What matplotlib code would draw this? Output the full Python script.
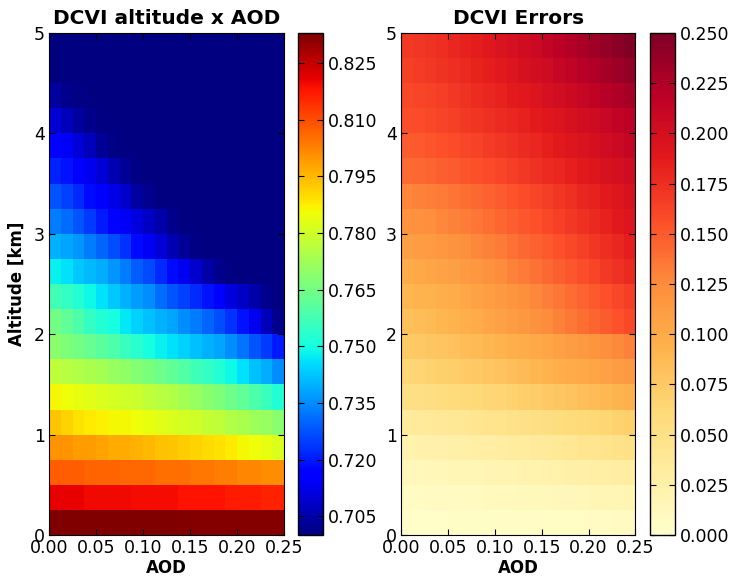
import numpy as np
import matplotlib
matplotlib.use("Agg")
from matplotlib import pyplot as plt

# bin edges (AOD and altitude in km)
aod_edges = np.linspace(0.0, 0.25, 21)
alt_edges = np.linspace(0.0, 5.0, 21)

# DCVI altitude x AOD, rows from the ground (0-0.25 km) upwards, 20 AOD bins each
dcvi = [
    [0.833, 0.833, 0.833, 0.833, 0.833, 0.833, 0.833, 0.833, 0.833, 0.833, 0.833, 0.833, 0.832, 0.832, 0.832, 0.832, 0.832, 0.832, 0.832, 0.832],
    [0.821, 0.821, 0.821, 0.820, 0.820, 0.820, 0.820, 0.819, 0.819, 0.819, 0.819, 0.818, 0.818, 0.818, 0.818, 0.817, 0.817, 0.817, 0.816, 0.816],
    [0.808, 0.808, 0.808, 0.807, 0.807, 0.807, 0.806, 0.806, 0.806, 0.805, 0.805, 0.805, 0.804, 0.804, 0.803, 0.803, 0.802, 0.802, 0.801, 0.801],
    [0.800, 0.800, 0.799, 0.799, 0.798, 0.797, 0.797, 0.796, 0.795, 0.794, 0.793, 0.792, 0.791, 0.790, 0.789, 0.788, 0.786, 0.785, 0.784, 0.782],
    [0.793, 0.791, 0.789, 0.788, 0.787, 0.786, 0.786, 0.785, 0.784, 0.783, 0.782, 0.781, 0.780, 0.778, 0.777, 0.775, 0.774, 0.772, 0.771, 0.769],
    [0.786, 0.785, 0.784, 0.783, 0.782, 0.781, 0.780, 0.779, 0.777, 0.776, 0.775, 0.773, 0.771, 0.769, 0.767, 0.764, 0.762, 0.759, 0.756, 0.752],
    [0.777, 0.776, 0.775, 0.774, 0.773, 0.771, 0.770, 0.768, 0.766, 0.764, 0.762, 0.760, 0.757, 0.755, 0.752, 0.749, 0.746, 0.742, 0.739, 0.735],
    [0.769, 0.767, 0.765, 0.763, 0.761, 0.759, 0.756, 0.753, 0.750, 0.748, 0.746, 0.744, 0.742, 0.740, 0.738, 0.735, 0.732, 0.728, 0.724, 0.720],
    [0.765, 0.762, 0.759, 0.755, 0.752, 0.750, 0.747, 0.744, 0.742, 0.740, 0.738, 0.735, 0.733, 0.730, 0.727, 0.723, 0.719, 0.713, 0.707, 0.702],
    [0.757, 0.755, 0.752, 0.749, 0.746, 0.743, 0.740, 0.737, 0.735, 0.731, 0.728, 0.725, 0.722, 0.719, 0.715, 0.711, 0.708, 0.705, 0.702, 0.700],
    [0.748, 0.746, 0.743, 0.741, 0.739, 0.736, 0.733, 0.729, 0.726, 0.722, 0.718, 0.713, 0.709, 0.705, 0.702, 0.700, 0.700, 0.700, 0.700, 0.700],
    [0.740, 0.738, 0.736, 0.733, 0.730, 0.727, 0.723, 0.718, 0.714, 0.710, 0.706, 0.703, 0.701, 0.700, 0.700, 0.700, 0.700, 0.700, 0.700, 0.700],
    [0.733, 0.731, 0.728, 0.724, 0.720, 0.717, 0.714, 0.711, 0.708, 0.705, 0.702, 0.700, 0.700, 0.700, 0.700, 0.700, 0.700, 0.700, 0.700, 0.700],
    [0.728, 0.725, 0.722, 0.718, 0.715, 0.712, 0.709, 0.704, 0.702, 0.700, 0.700, 0.700, 0.700, 0.700, 0.700, 0.700, 0.700, 0.700, 0.700, 0.700],
    [0.721, 0.719, 0.716, 0.713, 0.710, 0.706, 0.703, 0.701, 0.700, 0.700, 0.700, 0.700, 0.700, 0.700, 0.700, 0.700, 0.700, 0.700, 0.700, 0.700],
    [0.717, 0.714, 0.710, 0.707, 0.703, 0.701, 0.700, 0.700, 0.700, 0.700, 0.700, 0.700, 0.700, 0.700, 0.700, 0.700, 0.700, 0.700, 0.700, 0.700],
    [0.710, 0.707, 0.704, 0.702, 0.700, 0.700, 0.700, 0.700, 0.700, 0.700, 0.700, 0.700, 0.700, 0.700, 0.700, 0.700, 0.700, 0.700, 0.700, 0.700],
    [0.704, 0.702, 0.701, 0.700, 0.700, 0.700, 0.700, 0.700, 0.700, 0.700, 0.700, 0.700, 0.700, 0.700, 0.700, 0.700, 0.700, 0.700, 0.700, 0.700],
    [0.700, 0.700, 0.700, 0.700, 0.700, 0.700, 0.700, 0.700, 0.700, 0.700, 0.700, 0.700, 0.700, 0.700, 0.700, 0.700, 0.700, 0.700, 0.700, 0.700],
    [0.700, 0.700, 0.700, 0.700, 0.700, 0.700, 0.700, 0.700, 0.700, 0.700, 0.700, 0.700, 0.700, 0.700, 0.700, 0.700, 0.700, 0.700, 0.700, 0.700],
]

# DCVI errors, same layout
errors = [
    [0.003, 0.003, 0.003, 0.003, 0.004, 0.004, 0.004, 0.004, 0.005, 0.005, 0.005, 0.005, 0.006, 0.006, 0.006, 0.007, 0.007, 0.007, 0.008, 0.008],
    [0.007, 0.007, 0.008, 0.008, 0.008, 0.009, 0.009, 0.010, 0.011, 0.011, 0.012, 0.012, 0.013, 0.014, 0.014, 0.015, 0.016, 0.017, 0.017, 0.018],
    [0.013, 0.013, 0.014, 0.015, 0.016, 0.016, 0.017, 0.018, 0.019, 0.020, 0.021, 0.022, 0.023, 0.025, 0.026, 0.027, 0.028, 0.029, 0.031, 0.032],
    [0.022, 0.023, 0.024, 0.025, 0.026, 0.027, 0.028, 0.030, 0.031, 0.033, 0.034, 0.036, 0.037, 0.039, 0.041, 0.043, 0.044, 0.046, 0.048, 0.050],
    [0.035, 0.036, 0.037, 0.038, 0.040, 0.041, 0.043, 0.045, 0.046, 0.048, 0.050, 0.052, 0.054, 0.056, 0.059, 0.061, 0.063, 0.065, 0.068, 0.070],
    [0.052, 0.053, 0.054, 0.056, 0.058, 0.060, 0.062, 0.064, 0.066, 0.068, 0.071, 0.073, 0.076, 0.078, 0.081, 0.084, 0.086, 0.089, 0.092, 0.095],
    [0.065, 0.066, 0.068, 0.070, 0.072, 0.074, 0.076, 0.079, 0.081, 0.084, 0.087, 0.090, 0.093, 0.096, 0.099, 0.102, 0.105, 0.108, 0.112, 0.115],
    [0.075, 0.076, 0.078, 0.080, 0.082, 0.085, 0.087, 0.090, 0.093, 0.096, 0.099, 0.102, 0.105, 0.109, 0.112, 0.115, 0.119, 0.123, 0.126, 0.130],
    [0.083, 0.085, 0.087, 0.090, 0.093, 0.097, 0.100, 0.104, 0.108, 0.112, 0.116, 0.121, 0.125, 0.130, 0.135, 0.140, 0.145, 0.150, 0.155, 0.160],
    [0.090, 0.092, 0.094, 0.097, 0.100, 0.103, 0.107, 0.111, 0.115, 0.119, 0.123, 0.127, 0.132, 0.136, 0.141, 0.146, 0.151, 0.156, 0.161, 0.166],
    [0.100, 0.102, 0.104, 0.107, 0.110, 0.114, 0.117, 0.121, 0.125, 0.130, 0.134, 0.138, 0.143, 0.148, 0.152, 0.157, 0.162, 0.168, 0.173, 0.178],
    [0.110, 0.112, 0.114, 0.117, 0.120, 0.123, 0.127, 0.130, 0.134, 0.138, 0.143, 0.147, 0.151, 0.156, 0.160, 0.165, 0.170, 0.175, 0.180, 0.185],
    [0.120, 0.122, 0.124, 0.127, 0.130, 0.133, 0.136, 0.140, 0.144, 0.148, 0.152, 0.156, 0.160, 0.165, 0.169, 0.174, 0.178, 0.183, 0.188, 0.193],
    [0.128, 0.130, 0.132, 0.134, 0.137, 0.140, 0.143, 0.147, 0.150, 0.154, 0.158, 0.162, 0.166, 0.170, 0.174, 0.179, 0.183, 0.188, 0.192, 0.197],
    [0.142, 0.143, 0.145, 0.148, 0.150, 0.153, 0.156, 0.159, 0.162, 0.166, 0.169, 0.173, 0.177, 0.180, 0.184, 0.188, 0.192, 0.197, 0.201, 0.205],
    [0.150, 0.151, 0.153, 0.156, 0.158, 0.161, 0.164, 0.167, 0.170, 0.173, 0.177, 0.180, 0.184, 0.188, 0.192, 0.196, 0.200, 0.204, 0.208, 0.212],
    [0.157, 0.158, 0.160, 0.163, 0.165, 0.168, 0.171, 0.174, 0.177, 0.180, 0.183, 0.187, 0.191, 0.194, 0.198, 0.202, 0.206, 0.210, 0.214, 0.218],
    [0.160, 0.162, 0.164, 0.166, 0.169, 0.172, 0.176, 0.179, 0.183, 0.187, 0.190, 0.194, 0.199, 0.203, 0.207, 0.211, 0.216, 0.221, 0.225, 0.230],
    [0.165, 0.167, 0.169, 0.172, 0.175, 0.178, 0.182, 0.185, 0.189, 0.193, 0.198, 0.202, 0.206, 0.211, 0.215, 0.220, 0.225, 0.230, 0.235, 0.240],
    [0.168, 0.170, 0.172, 0.175, 0.179, 0.183, 0.186, 0.190, 0.195, 0.199, 0.204, 0.208, 0.213, 0.218, 0.223, 0.228, 0.234, 0.239, 0.244, 0.250],
]

x_ticks = [0.00, 0.05, 0.10, 0.15, 0.20, 0.25]
y_ticks = [0, 1, 2, 3, 4, 5]
dcvi_cbar_ticks = [0.705, 0.720, 0.735, 0.750, 0.765, 0.780, 0.795, 0.810, 0.825]
err_cbar_ticks = [0.000, 0.025, 0.050, 0.075, 0.100, 0.125, 0.150, 0.175, 0.200, 0.225, 0.250]

plt.rcParams["font.family"] = "DejaVu Sans"
plt.rcParams["font.size"] = 12
plt.rcParams["xtick.direction"] = "in"
plt.rcParams["ytick.direction"] = "in"
plt.rcParams["xtick.major.size"] = 4
plt.rcParams["ytick.major.size"] = 4

fig = plt.figure(figsize=(7.32, 5.76), dpi=100)

ax1 = fig.add_axes([0.067, 0.071, 0.321, 0.872])
cax1 = fig.add_axes([0.407, 0.071, 0.034, 0.872])
ax2 = fig.add_axes([0.548, 0.071, 0.320, 0.872])
cax2 = fig.add_axes([0.888, 0.071, 0.034, 0.872])

m1 = ax1.pcolormesh(aod_edges, alt_edges, np.array(dcvi), cmap="jet", vmin=0.700, vmax=0.833)
m2 = ax2.pcolormesh(aod_edges, alt_edges, np.array(errors), cmap="YlOrRd", vmin=0.0, vmax=0.25)

for ax in (ax1, ax2):
    ax.set_xlim(0, 0.25)
    ax.set_ylim(0, 5)
    ax.set_xticks(x_ticks)
    ax.set_xticklabels(["%.2f" % t for t in x_ticks])
    ax.set_yticks(y_ticks)
    ax.tick_params(top=True, right=True, labelsize=12.5, pad=3)
    ax.set_xlabel("AOD", fontweight="bold", fontsize=12, labelpad=1)

ax1.set_ylabel("Altitude [km]", fontweight="bold", fontsize=12, labelpad=6)
ax1.set_title("DCVI altitude x AOD", fontweight="bold", fontsize=14.5, pad=6)
ax2.set_title("DCVI Errors", fontweight="bold", fontsize=14.5, pad=6)

cb1 = fig.colorbar(m1, cax=cax1, ticks=dcvi_cbar_ticks)
cb1.ax.set_yticklabels(["%.3f" % t for t in dcvi_cbar_ticks])
cb2 = fig.colorbar(m2, cax=cax2, ticks=err_cbar_ticks)
cb2.ax.set_yticklabels(["%.3f" % t for t in err_cbar_ticks])
for cb in (cb1, cb2):
    cb.ax.tick_params(labelsize=12.5, direction="in", length=4, left=True, right=True)
    cb.outline.set_linewidth(1)

fig.savefig("out.png", dpi=100)
